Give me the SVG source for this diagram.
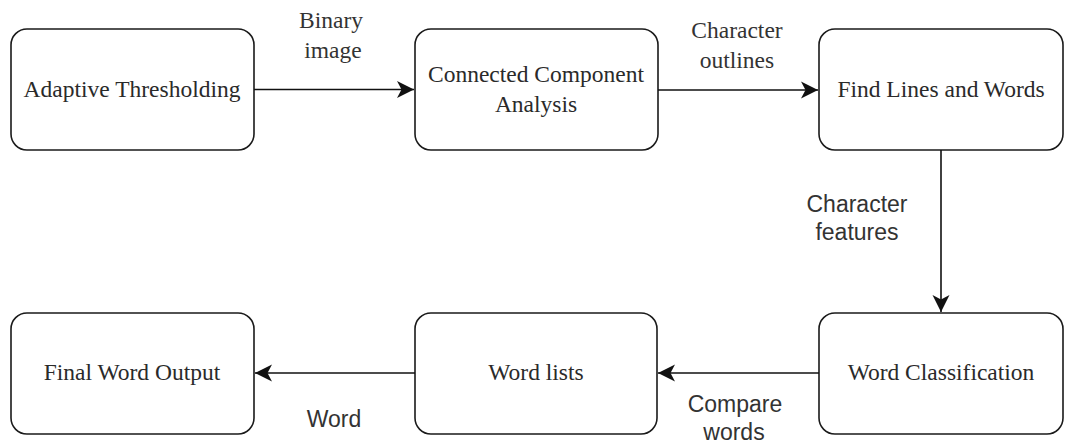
<svg xmlns="http://www.w3.org/2000/svg" width="1066" height="444" viewBox="0 0 1066 444">
  <style>
    .box { fill: #ffffff; stroke: #1a1a1a; stroke-width: 1.6; }
    .nt { font-family: "Liberation Serif", "Times New Roman", serif; font-size: 23.5px; fill: #2a2a2a; text-anchor: middle; }
    .lt { font-family: "Liberation Serif", "Times New Roman", serif; font-size: 23.5px; fill: #333333; text-anchor: middle; }
    .ls { font-family: "Liberation Sans", Arial, sans-serif; font-size: 23px; fill: #333333; text-anchor: middle; }
    .edge { fill: none; stroke: #111111; stroke-width: 1.6; }
  </style>
  <defs>
    <marker id="arrow" markerUnits="userSpaceOnUse" markerWidth="18" markerHeight="20" refX="17" refY="10" orient="auto" viewBox="0 0 18 20">
      <path d="M17,10 L0,1.5 L4.5,10 L0,18.5 Z" fill="#111111"/>
    </marker>
  </defs>
  <rect width="1066" height="444" fill="#ffffff"/>

  <g id="node-adaptive-thresholding">
    <rect class="box" x="11" y="29" width="243" height="121" rx="16" ry="16"/>
    <text class="nt" x="132" y="97">Adaptive Thresholding</text>
  </g>
  <g id="node-connected-component-analysis">
    <rect class="box" x="415" y="29" width="243" height="121" rx="16" ry="16"/>
    <text class="nt" x="536" y="82">Connected Component</text>
    <text class="nt" x="536" y="112">Analysis</text>
  </g>
  <g id="node-find-lines-and-words">
    <rect class="box" x="819" y="29" width="244" height="121" rx="16" ry="16"/>
    <text class="nt" x="941" y="97">Find Lines and Words</text>
  </g>
  <g id="node-word-classification">
    <rect class="box" x="819" y="313" width="244" height="121" rx="16" ry="16"/>
    <text class="nt" x="941" y="380">Word Classification</text>
  </g>
  <g id="node-word-lists">
    <rect class="box" x="415" y="313" width="242" height="121" rx="16" ry="16"/>
    <text class="nt" x="536" y="380">Word lists</text>
  </g>
  <g id="node-final-word-output">
    <rect class="box" x="11" y="313" width="243" height="121" rx="16" ry="16"/>
    <text class="nt" x="132" y="380">Final Word Output</text>
  </g>

  <g id="connectors">
    <line class="edge" x1="254" y1="89.5" x2="414" y2="89.5" marker-end="url(#arrow)"/>
    <line class="edge" x1="658" y1="90" x2="818" y2="90" marker-end="url(#arrow)"/>
    <line class="edge" x1="941" y1="150" x2="941" y2="312" marker-end="url(#arrow)"/>
    <line class="edge" x1="819" y1="373" x2="658" y2="373" marker-end="url(#arrow)"/>
    <line class="edge" x1="415" y1="373" x2="255" y2="373" marker-end="url(#arrow)"/>

    <text class="lt" x="331" y="28">Binary</text>
    <text class="lt" x="333" y="58">image</text>
    <text class="lt" x="737" y="38">Character</text>
    <text class="lt" x="737" y="68">outlines</text>
    <text class="ls" x="857" y="212">Character</text>
    <text class="ls" x="857" y="240">features</text>
    <text class="ls" x="735" y="412">Compare</text>
    <text class="ls" x="734" y="440">words</text>
    <text class="ls" x="334" y="427">Word</text>
  </g>
</svg>
